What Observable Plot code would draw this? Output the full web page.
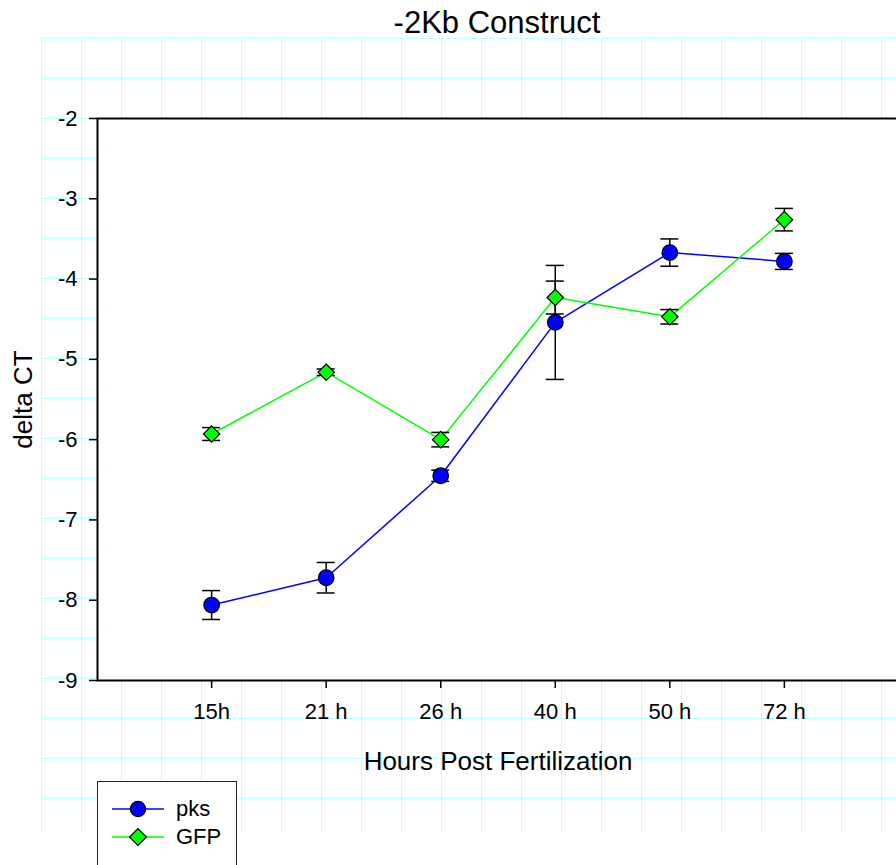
<!DOCTYPE html>
<html>
<head>
<meta charset="utf-8">
<script src="https://cdn.jsdelivr.net/npm/d3@7"></script>
<script src="https://cdn.jsdelivr.net/npm/@observablehq/plot@0.6"></script>
<style>
  html, body { margin: 0; padding: 0; background: #fff; }
  #wrap { position: relative; width: 896px; height: 865px; overflow: hidden; background: #fff;
          font-family: "Liberation Sans", Arial, sans-serif; color: #000; }
  #grid { position: absolute; left: 41px; top: 38px; width: 900px; height: 794px;
          background-image:
            linear-gradient(to right, #c0ffff 0, #c0ffff 1px, transparent 1px),
            linear-gradient(to bottom, #c0ffff 0, #c0ffff 1px, transparent 1px);
          background-size: 40px 40px; }
  #chart { position: absolute; left: 0; top: 0; }
  #title { position: absolute; left: 97px; width: 800px; top: 7px; text-align: center;
           font-size: 31px; line-height: 31px; }
  #legend { position: absolute; left: 97px; top: 781px; width: 140px; height: 120px;
            box-sizing: border-box; border: 1px solid #222; background: #fff; padding-top: 13px; }
  .row { display: flex; align-items: center; height: 28px; }
  .row svg { margin-left: 14px; display: block; }
  .row span { margin-left: 12px; font-size: 22px; }
</style>
</head>
<body>
<div id="wrap">
  <div id="grid"></div>
  <div id="chart"></div>
  <div id="title"></div>
  <div id="legend"></div>
</div>
<script>
// ---- data ----
const hours = ["15h", "21 h", "26 h", "40 h", "50 h", "72 h"];
const pksMean = [-8.06, -7.72, -6.45, -4.54, -3.67, -3.78];
const pksErr  = [0.18, 0.19, 0.07, 0.71, 0.17, 0.10];
const gfpMean = [-5.93, -5.16, -6.00, -4.23, -4.47, -3.26];
const gfpErr  = [0.08, 0.04, 0.09, 0.205, 0.09, 0.14];
const yTicks = [-9, -8, -7, -6, -5, -4, -3, -2];
const seriesNames = ["pks", "GFP"];
const seriesColors = ["#0000ff", "#00ff00"];
const seriesSymbols = ["circle", "diamond2"];
const titleText = "-2Kb Construct";
const xTitle = "Hours Post Fertilization";
const yTitle = "delta CT";

const rows = [];
hours.forEach((h, i) => {
  rows.push({hour: h, series: "pks", mean: pksMean[i], lo: pksMean[i] - pksErr[i], hi: pksMean[i] + pksErr[i]});
});
hours.forEach((h, i) => {
  rows.push({hour: h, series: "GFP", mean: gfpMean[i], lo: gfpMean[i] - gfpErr[i], hi: gfpMean[i] + gfpErr[i]});
});
const pksRows = rows.filter(d => d.series === "pks");
const gfpRows = rows.filter(d => d.series === "GFP");

const font = "'Liberation Sans', Arial, sans-serif";

const chart = Plot.plot({
  width: 898,
  height: 865,
  marginLeft: 97,
  marginRight: 0,
  marginTop: 118,
  marginBottom: 185,
  style: {background: "transparent", maxWidth: "none", overflow: "visible", fontFamily: font, fontSize: "22px", color: "#000"},
  x: {type: "band", domain: hours, paddingInner: 0.843, paddingOuter: 0.918, round: false},
  y: {domain: [-9, -2]},
  marks: [
    Plot.frame({fill: "white", stroke: null}),
    Plot.line(pksRows, {x: "hour", y: "mean", stroke: seriesColors[0], strokeWidth: 1.5}),
    Plot.line(gfpRows, {x: "hour", y: "mean", stroke: seriesColors[1], strokeWidth: 1.5}),
    Plot.ruleX(rows, {x: "hour", y1: "lo", y2: "hi", stroke: "black", strokeWidth: 1.5}),
    Plot.tickY(rows, {x: "hour", y: "lo", stroke: "black", strokeWidth: 1.5}),
    Plot.tickY(rows, {x: "hour", y: "hi", stroke: "black", strokeWidth: 1.5}),
    Plot.dot(pksRows, {x: "hour", y: "mean", r: 7.8, symbol: seriesSymbols[0], fill: seriesColors[0], stroke: "black", strokeWidth: 1.2}),
    Plot.dot(gfpRows, {x: "hour", y: "mean", r: 7.4, symbol: seriesSymbols[1], fill: seriesColors[1], stroke: "black", strokeWidth: 1.2}),
    Plot.frame({stroke: "black", strokeWidth: 2, fill: null}),
    Plot.axisY({ticks: yTicks, tickFormat: d => String(d), tickSize: 8, tickPadding: 12, fontSize: 22, strokeWidth: 1.5, label: null}),
    Plot.axisX({tickSize: 8, tickPadding: 15, fontSize: 22, strokeWidth: 1.5, label: null}),
    Plot.text([xTitle], {frameAnchor: "bottom", text: d => d, dy: 89, fontSize: 26}),
    Plot.text([yTitle], {frameAnchor: "left", textAnchor: "middle", text: d => d, dx: -74, rotate: -90, fontSize: 26})
  ]
});
document.getElementById("chart").appendChild(chart);
document.getElementById("title").textContent = titleText;

// legend
const legend = document.getElementById("legend");
seriesNames.forEach((name, i) => {
  const row = document.createElement("div");
  row.className = "row";
  const sym = d3.symbol(seriesSymbols[i] === "circle" ? d3.symbolCircle : d3.symbolDiamond2, Math.PI * 7.6 * 7.6)();
  row.innerHTML = `<svg width="52" height="20" viewBox="0 0 52 20">
      <line x1="0" x2="52" y1="10" y2="10" stroke="${seriesColors[i]}" stroke-width="1.5"/>
      <path d="${sym}" transform="translate(26,10)" fill="${seriesColors[i]}" stroke="black" stroke-width="1.2"/>
    </svg><span>${name}</span>`;
  legend.appendChild(row);
});
</script>
</body>
</html>
